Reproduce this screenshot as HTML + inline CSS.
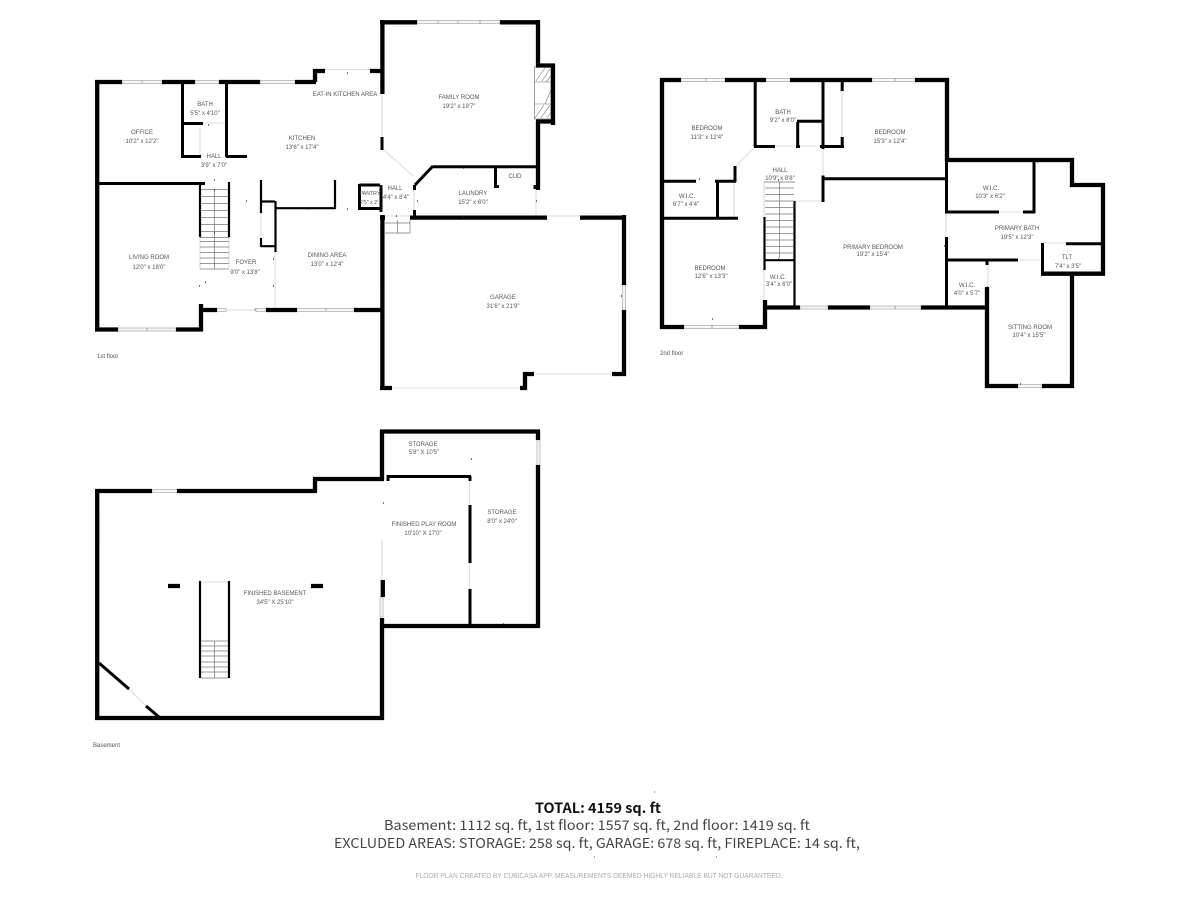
<!DOCTYPE html>
<html><head><meta charset="utf-8"><title>Floor plan</title>
<style>
html,body{margin:0;padding:0;background:#fff}
svg{display:block}
text{font-family:"Liberation Sans",sans-serif;font-size:6px;fill:#555;text-anchor:middle}
.w4,.w3,.w2,.g,.t,.h,.k{fill:none}
.w4{stroke:#000;stroke-width:4.3}
.w3{stroke:#000;stroke-width:3}
.w2{stroke:#000;stroke-width:2.2}
.g{stroke:#ddd;stroke-width:1.1}
.t{stroke:#777;stroke-width:.7}
.h{stroke:#777;stroke-width:.6}
.k{stroke:#222;stroke-width:1.2}
.win{fill:#f6f6f6;stroke:#aaa;stroke-width:.7}
.l{text-anchor:start;font-size:6px}
.f{font-family:"Noto Sans CJK SC","Liberation Sans",sans-serif}
</style></head><body>
<svg width="1200" height="900" viewBox="0 0 1200 900" xmlns="http://www.w3.org/2000/svg">
<rect width="1200" height="900" fill="#fff"/>

<!-- gray openings -->
<path class="g" d="M325 69.5H370M382 94V137M384 150L413 176M414 190V210M536 190V215M547 216H580M384 216H410M534 374H612M392 388H520M203 123H226M200 128V155M200 237V269M229 237V269M261 213V238M275 252V308M226 310H256M775 146H795M800 146H820M842 91V137M823 149V175M795 201H821M753 149L736 166M734 182V217M764 182V217M764 270V300M795 182H764M999 212H1023M1018 260H1040M1044 243H1066M946 213V237M988 265V287M469.5 481V505M469.5 563V589M382 540V580M201 582H228M129 689L146 706"/>

<!-- windows -->
<g>
<rect class="win" x="122" y="80.5" width="40" height="3"/><rect class="win" x="195" y="80.5" width="24" height="3"/><rect class="win" x="260" y="80.5" width="35" height="3"/>
<rect class="win" x="118" y="328" width="58" height="3"/><rect class="win" x="217" y="308.5" width="9" height="3"/><rect class="win" x="256" y="308.5" width="10" height="3"/><rect class="win" x="297" y="308.5" width="57" height="3"/>
<rect class="win" x="417" y="20.5" width="83" height="3"/><rect class="win" x="622.5" y="285" width="3" height="25"/>
<rect class="win" x="681" y="78.5" width="44" height="3"/><rect class="win" x="766" y="78.5" width="24" height="3"/><rect class="win" x="872" y="78.5" width="43" height="3"/>
<rect class="win" x="684" y="325.5" width="55" height="3"/><rect class="win" x="800" y="306" width="28" height="3"/><rect class="win" x="870" y="306" width="51" height="3"/><rect class="win" x="1018" y="384.5" width="24" height="3"/>
<rect class="win" x="152" y="489.5" width="25" height="3"/><rect class="win" x="96" y="517" width="3" height="25"/><rect class="win" x="537" y="440" width="3" height="25"/><rect class="win" x="380" y="597" width="3" height="20"/>
</g>
<path class="h" d="M142 80.500v3M147 328v3M255 308v3M326 308v3M438 20.500v3M458 20.500v3M480 20.500v3M712 325.500v3M895 306v3M895 78v3M706 78v3"/>

<!-- fireplace -->
<rect x="534.5" y="67" width="16.5" height="52" fill="#fff" stroke="#777" stroke-width=".7"/>
<path class="h" d="M534.500 82H551M534.500 104H551M536 81L545 68M542 81L550 69M535 118L544 105M541 118L550 105M546 82L551 76M545 104L551 90M547 118L551 112"/>

<!-- thick walls -->
<path class="w4" d="M97.200 80V331M95 82H122M162 82H195M219 82H260M295 82H316M315 82V69M313 71H325M370 71H382
M95 329.500H118M176 329.500H203M201 304V331M201 310H217M266 310H297M354 310H384
M382.400 215V390M380 388H392M520 388H527M525 390V372M523 374H534M612 374H626M624 376V310M624 285V215M410 217.600H547M580 217.600H626M380 217.600H385
M382.400 20V94M380 22.300H417M500 22.300H540M538 20V66M536 65.500H555M553 64V125M555 121.500H536M538 121V190
M662 78V329M660 80H681M725 80H766M790 80H872M915 80H949M947 78V162M945 160H1074M1072 158V187M1070 185H1105M1103 183V275.500M1041 273.700H1105M1072 275V388M987 287V388M985 386H1018M1042 386H1074
M660 327H684M739 327H767M765 300V329M763 307.500H800M828 307.500H870M921 307.500H985
M97.200 489V720M95 491H152M177 491H317M315 478V492M313 479H384M382 430V480M380 431.500H540M538 430V440M538 465V628M382 626H540M382 618V720M95 718H384M168 586H180M311 586H323M382.800 580V597"/>

<!-- interior walls -->
<path class="w3" d="M182.500 84V157M181 156.500H201M184 123.500H203M226.500 84V157M226 156.500H247M97 183.500H205M433 166.800H540M433 166L415 185M495.500 166V187M494 186.500H499M535 185V189M414.500 185V190M414.500 210V216M382 137V150
M359.500 185H380M359.500 184V209M358 208.500H382M381 185V212
M755.200 82V147M754 146.500H775M796 146.500H800M820 146.500H844M823 82V149M842.200 82V91M842.200 137V148M797.700 122V147M797 121.300H823M823 175.500V202M824 178.700H946M946.500 160V213M945 212H999M1023 212H1035M1034 160V213M947 260H1018M1042.500 243V275M1066 243.700H1105M946.500 237V309M987 261V265
M664 181.200H696M715 181.200H736M717.500 180V219M664 218.300H738M735 166V182
M470 476V481M470 505V563M470 589V626M389 476.500H471M388 475V481
M99 663L129 689M146 706L159 717"/>

<!-- stair sides -->
<path class="w2" d="M200 182V237M229 182V237M261 180V213M261 238V247M261 201.500H275M275.500 201V252M276 208.200H335M335 180V209M261 246.200H275
M764.500 217V270M765 260.200H795M794.500 201V308M200 581V678M229 581V678
M359 184V186"/>

<!-- stair treads -->
<path class="t" d="M201 189.500H228M201 196.500H228M201 203.500H228M201 210.500H228M201 217.500H228M201 224.500H228M201 231.500H228M200 237.500H229M200 241.500H229M200 247H229M200 252.500H229M200 258H229M200 263.500H229M200 269H229M214.500 189V269
M384 223H410M384 233H410M410 220V233M397.500 220V233
M764 182H795M765 188H794M765 194.500H794M765 201H794M765 207.500H794M765 214H794M765 220.500H794M765 227H794M765 233.500H794M765 240H794M765 246.500H794M765 253H794M779.500 182V258
M201 641H228M201 646H228M201 651H228M201 656H228M201 662H228M201 667H228M201 672H228M201 678H228M214.500 641V678"/>

<!-- ticks -->
<path class="k" d="M347 73h1M208 125h1M214 180h1M214 190h1M214 233h1M246 201h1M307 209h1M347 209h1M205 282h1M199 286h1M273 259h1M273 286h1M380 259h1M383 296h1M396 216h1M463 168h1M463 217h1M417 201h1M536 201h1M621 296h1M699 179h1M1067 273h1M1069 244h1M1037 162h1M944 246h1M987 287h1M1020 384h1M778 259h1M778 180h1M734 181h1M712 319h1M471 459h1M503 624h1M383 503h1"/>

<!-- 1st floor labels -->
<text x="142" y="134">OFFICE</text><text x="142" y="143">10'2" x 12'2"</text>
<text x="205" y="106">BATH</text><text x="205" y="115">5'5" x 4'10"</text>
<text x="214" y="158">HALL</text><text x="214" y="167">3'9" x 7'0"</text>
<text x="302" y="140">KITCHEN</text><text x="302" y="149">13'6" x 17'4"</text>
<text x="345" y="96">EAT-IN KITCHEN AREA</text>
<text x="370" y="195" style="font-size:5.200px">PANTRY</text><text x="369" y="204" style="font-size:5.200px">2'5" x 2'</text>
<text x="395" y="190">HALL</text><text x="396" y="199">4'4" x 8'4"</text>
<text x="459" y="99">FAMILY ROOM</text><text x="459" y="108">19'2" x 19'7"</text>
<text x="473" y="195">LAUNDRY</text><text x="473" y="204">15'2" x 6'0"</text>
<text x="515" y="178">CUD</text>
<text x="149" y="259">LIVING ROOM</text><text x="149" y="269">12'0" x 18'0"</text>
<text x="246" y="264">FOYER</text><text x="245" y="274">9'0" x 13'8"</text>
<text x="327" y="257">DINING AREA</text><text x="327" y="266">13'0" x 12'4"</text>
<text x="503" y="299">GARAGE</text><text x="503" y="308">31'6" x 21'9"</text>
<text class="l" x="97" y="358">1st floor</text>

<!-- 2nd floor labels -->
<text x="707" y="130">BEDROOM</text><text x="707" y="139">11'3" x 12'4"</text>
<text x="783" y="114">BATH</text><text x="783" y="122">9'2" x 8'0"</text>
<text x="890" y="134">BEDROOM</text><text x="890" y="143">15'3" x 12'4"</text>
<text x="780" y="172">HALL</text><text x="780" y="180">10'9" x 8'8"</text>
<text x="687" y="198">W.I.C.</text><text x="686" y="206">6'7" x 4'4"</text>
<text x="710" y="270">BEDROOM</text><text x="711" y="278">12'6" x 13'3"</text>
<text x="778" y="279">W.I.C.</text><text x="779" y="286">3'4" x 6'0"</text>
<text x="873" y="249">PRIMARY BEDROOM</text><text x="873" y="256">19'2" x 15'4"</text>
<text x="991" y="190">W.I.C.</text><text x="990" y="198">10'3" x 6'2"</text>
<text x="1017" y="230">PRIMARY BATH</text><text x="1017" y="239">19'5" x 12'3"</text>
<text x="1067" y="259">TLT</text><text x="1068" y="268">7'4" x 3'5"</text>
<text x="967" y="287">W.I.C.</text><text x="967" y="295">4'0" x 5'7"</text>
<text x="1030" y="329">SITTING ROOM</text><text x="1029" y="337">10'4" x 15'5"</text>
<text class="l" x="660" y="355">2nd floor</text>

<!-- basement labels -->
<text x="423" y="446">STORAGE</text><text x="424" y="454">5'8" X 10'5"</text>
<text x="502" y="514">STORAGE</text><text x="502" y="523">8'0" x 24'0"</text>
<text x="424" y="526">FINISHED PLAY ROOM</text><text x="423" y="535">10'10" X 17'0"</text>
<text x="275" y="595">FINISHED BASEMENT</text><text x="275" y="604">34'5" X 25'10"</text>
<text class="l" x="93" y="747">Basement</text>

<!-- footer -->
<text class="f" x="598" y="813" style="font-size:14px;font-weight:bold;fill:#111" textLength="126" lengthAdjust="spacingAndGlyphs">TOTAL: 4159 sq. ft</text>
<text class="f" x="597" y="830" style="font-size:13.500px;fill:#444" textLength="426" lengthAdjust="spacingAndGlyphs">Basement: 1112 sq. ft, 1st floor: 1557 sq. ft, 2nd floor: 1419 sq. ft</text>
<text class="f" x="597" y="848" style="font-size:13.500px;fill:#444" textLength="526" lengthAdjust="spacingAndGlyphs">EXCLUDED AREAS: STORAGE: 258 sq. ft, GARAGE: 678 sq. ft, FIREPLACE: 14 sq. ft,</text>
<text x="599" y="878" style="font-size:7px;fill:#aaa" textLength="367" lengthAdjust="spacingAndGlyphs">FLOOR PLAN CREATED BY CUBICASA APP. MEASUREMENTS DEEMED HIGHLY RELIABLE BUT NOT GUARANTEED.</text>
<path class="k" d="M594 857h1M716 857h1M654 792h1" style="stroke-width:.7"/>
</svg>
</body></html>
